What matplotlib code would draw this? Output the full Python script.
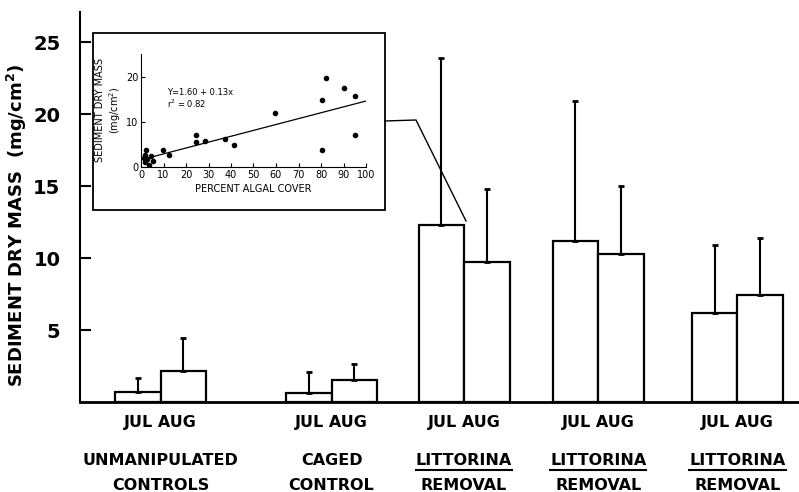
import numpy as np
import matplotlib
matplotlib.use("Agg")
import matplotlib.pyplot as plt
from matplotlib.patches import Rectangle
from matplotlib.lines import Line2D

# main bar chart: sediment dry mass (mg/cm2), mean and upper error
group_top = ["UNMANIPULATED", "CAGED", "LITTORINA", "LITTORINA", "LITTORINA"]
group_bottom = ["CONTROLS", "CONTROL", "REMOVAL", "REMOVAL", "REMOVAL"]
underlined = [False, False, True, True, True]
month_labels = ["JUL", "AUG"]

jul_mean = [0.72, 0.65, 12.27, 11.16, 6.16]
aug_mean = [2.15, 1.55, 9.72, 10.30, 7.41]
jul_err = [0.97, 1.43, 11.63, 9.76, 4.76]
aug_err = [2.32, 1.11, 5.09, 4.70, 3.98]

# inset: percent algal cover vs sediment dry mass
algal_cover = [2.1, 1.8, 1.5, 1.8, 2.8, 3.6, 4.4, 5.2, 9.9, 12.6, 24.3, 24.4,
               28.4, 37.3, 41.5, 59.4, 80.4, 82.4, 90.2, 95.3, 95.1, 80.4]
sediment = [3.8, 2.7, 1.9, 1.0, 1.7, 0.5, 2.4, 1.4, 3.7, 2.6, 7.1, 5.6,
            5.7, 6.2, 4.8, 11.9, 14.9, 19.6, 17.5, 15.6, 7.1, 3.8]
fit_intercept = 1.60
fit_slope = 0.13

# layout (group centres in units of one bar width)
group_pos = np.array([1.77, 5.53, 8.44, 11.39, 14.45])
W, H = 799, 492


def px(x, y):
    return x / W, 1 - y / H


def main():
    fig = plt.figure(figsize=(W / 100, H / 100), dpi=100)
    ax = fig.add_axes([80 / W, 1 - 402 / H, 719 / W, 390 / H])

    ax.bar(group_pos - 0.5, jul_mean, width=1.0, color="white",
           edgecolor="black", linewidth=1.6, zorder=2)
    ax.bar(group_pos + 0.5, aug_mean, width=1.0, color="white",
           edgecolor="black", linewidth=1.6, zorder=2)
    ax.errorbar(group_pos - 0.5, jul_mean, yerr=[np.zeros(5), jul_err],
                fmt="none", ecolor="black", elinewidth=1.5, capsize=2.5,
                capthick=2, zorder=3)
    ax.errorbar(group_pos + 0.5, aug_mean, yerr=[np.zeros(5), aug_err],
                fmt="none", ecolor="black", elinewidth=1.5, capsize=2.5,
                capthick=2, zorder=3)

    ax.set_xlim(0, 719 / 45.5)
    ax.set_ylim(0, 27.1)
    for s in ["top", "right"]:
        ax.spines[s].set_visible(False)
    ax.spines["left"].set_linewidth(1.5)
    ax.spines["bottom"].set_linewidth(2)

    ax.set_yticks([5, 10, 15, 20, 25])
    ax.tick_params(axis="y", direction="in", length=8, width=1.5,
                   labelsize=14, pad=14)
    for lab in ax.get_yticklabels():
        lab.set_fontweight("bold")
    ax.set_xticks(group_pos)
    ax.set_xticklabels([" ".join(month_labels)] * 5, fontsize=11.5,
                       fontweight="bold")
    ax.tick_params(axis="x", length=0, pad=9)

    fig.text(17 / W, 1 - 225 / H, "SEDIMENT DRY MASS  (mg/cm$^\\mathbf{2}$)",
             rotation=90, ha="center", va="center", fontsize=13,
             fontweight="bold")

    tr = ax.get_xaxis_transform()
    top_texts = []
    for x, t1, t2 in zip(group_pos, group_top, group_bottom):
        top_texts.append(ax.text(x, -59 / 390, t1, transform=tr, ha="center",
                                 va="center", fontsize=11.5,
                                 fontweight="bold"))
        ax.text(x, -83 / 390, t2, transform=tr, ha="center", va="center",
                fontsize=11.5, fontweight="bold")

    fig.canvas.draw()
    renderer = fig.canvas.get_renderer()
    for t, u in zip(top_texts, underlined):
        if not u:
            continue
        bb = t.get_window_extent(renderer).transformed(fig.transFigure.inverted())
        yline = bb.y0 - 2 / H
        fig.add_artist(Line2D([bb.x0, bb.x1], [yline, yline], color="black",
                              linewidth=1.5, transform=fig.transFigure))

    # inset box and connector
    box = Rectangle(px(93, 210), 292 / W, 177 / H, transform=fig.transFigure,
                    facecolor="white", edgecolor="black", linewidth=1.3,
                    zorder=2)
    fig.add_artist(box)
    xs, ys = zip(px(385, 121), px(416, 120), px(466, 221))
    fig.add_artist(Line2D(xs, ys, color="black", linewidth=1,
                          transform=fig.transFigure))

    axi = fig.add_axes([141 / W, 1 - 167 / H, 225 / W, 113 / H], zorder=3)
    axi.patch.set_alpha(0)
    axi.scatter(algal_cover, sediment, s=9, color="black", zorder=3)
    xfit = np.array([1.5, 100])
    axi.plot(xfit, fit_intercept + fit_slope * xfit, color="black",
             linewidth=0.9)
    axi.set_xlim(0, 100)
    axi.set_ylim(0, 25)
    for s in ["top", "right"]:
        axi.spines[s].set_visible(False)
    axi.spines["left"].set_linewidth(0.8)
    axi.spines["bottom"].set_linewidth(0.8)
    axi.set_xticks(np.arange(0, 101, 10))
    axi.set_yticks([0, 10, 20])
    axi.tick_params(direction="in", length=3, width=0.8, labelsize=7,
                    pad=2)
    axi.set_xlabel("PERCENT ALGAL COVER", fontsize=7, labelpad=3)
    axi.set_ylabel("SEDIMENT DRY MASS\n(mg/cm$^2$)", fontsize=7,
                   labelpad=2)
    axi.text(11.5, 16.4, "Y=1.60 + 0.13x", fontsize=6, va="center")
    axi.text(11.5, 13.9, "r$^2$ = 0.82", fontsize=6, va="center")

    fig.savefig("out.png", dpi=100)


if __name__ == "__main__":
    main()
